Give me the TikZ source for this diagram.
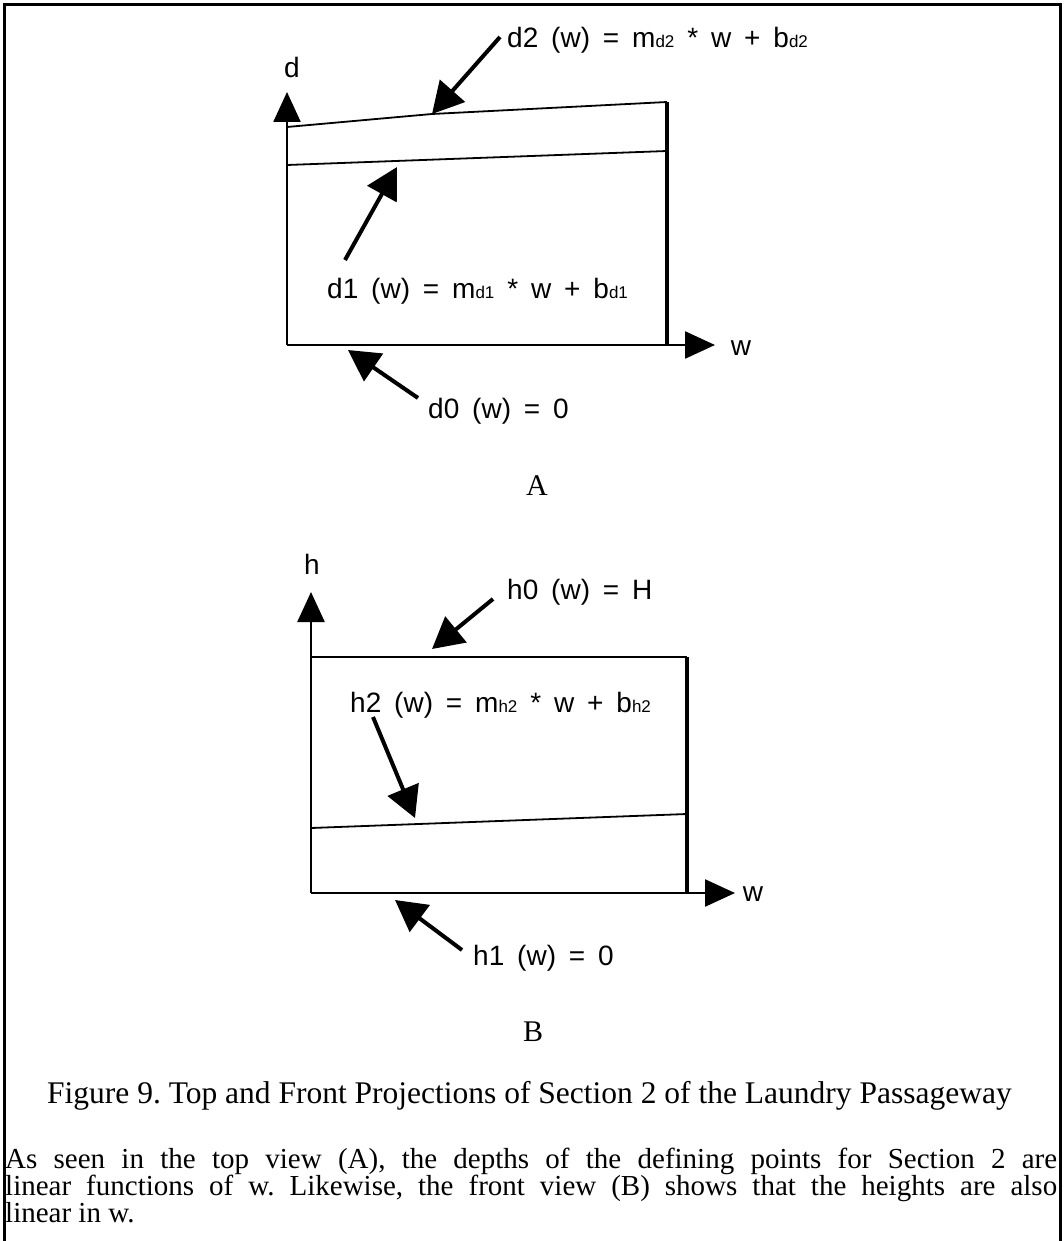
\documentclass[tikz,border=0pt]{standalone}
\usepackage{fontspec}
\setmainfont{Liberation Serif}
\newfontfamily\labfam{Liberation Sans}
\usetikzlibrary{arrows.meta}
\frenchspacing
\newcommand\labfont{\labfam\fontsize{28}{32}\selectfont\spaceskip=0.46em plus 0.1em\relax}
\newcommand\smallsub[1]{{\fontsize{17}{17}\selectfont #1}}
\tikzset{
  frame/.style={line width=3pt},
  axisline/.style={line width=2.5pt,-{Triangle[length=30pt,width=27pt]}},
  edge/.style={line width=2.5pt},
  rside/.style={line width=3.2pt},
  slant/.style={line width=1.8pt},
  ptr/.style={line width=4pt,-{Triangle[length=31pt,width=33pt]}},
  lbl/.style={inner sep=0pt,anchor=base west,font=\labfont},
  axlbl/.style={inner sep=0pt,anchor=base,font=\labfont},
  serif/.style={inner sep=0pt,anchor=base,font=\fontsize{30}{34}\selectfont},
  para/.style={inner sep=0pt,anchor=base west,font=\fontsize{29}{27}\selectfont},
}
\begin{document}
\begin{tikzpicture}[x=1pt,y=-1pt]
\useasboundingbox (0,0) rectangle (1063,1241);
% frame
\coordinate (fbl) at (4,1241);
\coordinate (ftl) at (4,5);
\coordinate (ftr) at (1060,5);
\coordinate (fbr) at (1060,1241);
\draw[frame] (fbl) -- (ftl) -- (ftr) -- (fbr);

% ---------- A : top view ----------
\coordinate (Ao) at (287,345);
\coordinate (Aytip) at (287,92);
\coordinate (Axtip) at (715,345);
\coordinate (Ar0) at (667,345);
\coordinate (Ar1) at (667,102);
\coordinate (Ad2l) at (287,127);
\coordinate (Ad2m) at (432,114);
\coordinate (Ad1l) at (287,165);
\coordinate (Ad1r) at (667,151);
\draw[axisline] (Ao) -- (Aytip);
\draw[axisline] (Ao) -- (Axtip);
\draw[rside] (Ar0) -- (Ar1);
\draw[slant] (Ad2l) -- (Ad2m) -- (Ar1);
\draw[slant] (Ad1l) -- (Ad1r);
\node[axlbl] (dlab) at (292,78) {d};
\node[axlbl] (wlabA) at (741,355) {w};

\node[lbl] (d2t) at (507,48) {d2 (w) = m\smallsub{d2} * w + b\smallsub{d2}};
\node[lbl] (d1t) at (327,298) {d1 (w) = m\smallsub{d1} * w + b\smallsub{d1}};
\node[lbl] (d0t) at (428,418) {d0 (w) = 0};
\coordinate (d2tail) at (500,37);
\coordinate (d1tail) at (345,260);
\coordinate (d1tip) at (397,167);
\coordinate (d0tail) at (418,398);
\coordinate (d0tip) at (348,350);
\draw[ptr] (d2tail) -- (Ad2m);
\draw[ptr] (d1tail) -- (d1tip);
\draw[ptr] (d0tail) -- (d0tip);
\node[serif] (Acap) at (537,495) {A};

% ---------- B : front view ----------
\coordinate (Bo) at (311,893);
\coordinate (Bytip) at (311,592);
\coordinate (Bxtip) at (735,893);
\coordinate (Btl) at (311,657);
\coordinate (Btr) at (687,657);
\coordinate (Bbr) at (687,893);
\coordinate (Bh2l) at (311,828);
\coordinate (Bh2r) at (687,814);
\draw[axisline] (Bo) -- (Bytip);
\draw[axisline] (Bo) -- (Bxtip);
\draw[edge] (Btl) -- (Btr);
\draw[rside] (Btr) -- (Bbr);
\draw[slant] (Bh2l) -- (Bh2r);
\node[axlbl] (hlab) at (312,574) {h};
\node[axlbl] (wlabB) at (753,901) {w};

\node[lbl] (h0t) at (507,599) {h0 (w) = H};
\node[lbl] (h2t) at (350,712) {h2 (w) = m\smallsub{h2} * w + b\smallsub{h2}};
\node[lbl] (h1t) at (473,965) {h1 (w) = 0};
\coordinate (h0tail) at (493,599);
\coordinate (h0tip) at (432,649);
\coordinate (h2tail) at (373,717);
\coordinate (h2tip) at (415,818);
\coordinate (h1tail) at (462,950);
\coordinate (h1tip) at (395,900);
\draw[ptr] (h0tail) -- (h0tip);
\draw[ptr] (h2tail) -- (h2tip);
\draw[ptr] (h1tail) -- (h1tip);
\node[serif] (Bcap) at (533,1041) {B};

% ---------- caption and text ----------
\node[serif,anchor=base west,font=\fontsize{31.5}{34}\selectfont] (cap) at (47,1103) {Figure 9. Top and Front Projections of Section 2 of the Laundry Passageway};
\node[para] (p1) at (5,1168) {\makebox[1052pt][s]{As seen in the top view (A), the depths of the defining points for Section 2 are}};
\node[para] (p2) at (5,1195) {\makebox[1052pt][s]{linear functions of w. Likewise, the front view (B) shows that the heights are also}};
\node[para] (p3) at (5,1222) {linear in w.};
\end{tikzpicture}
\end{document}
